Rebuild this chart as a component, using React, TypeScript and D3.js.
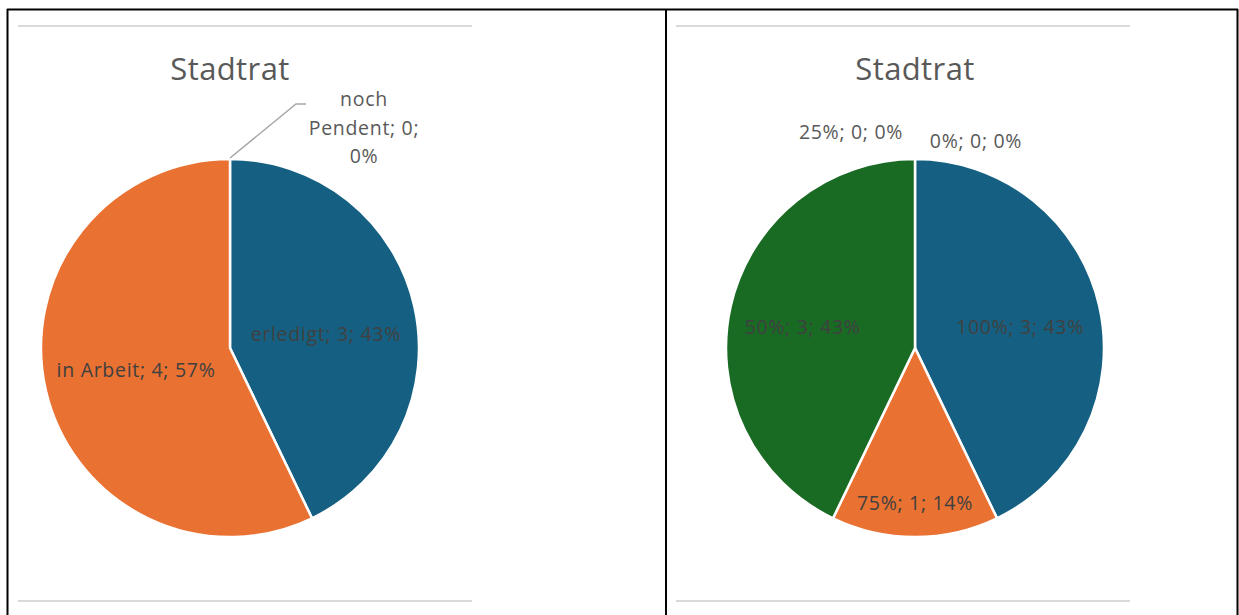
import React from "react";
import * as d3 from "d3";

const leftCategories = ["erledigt", "in Arbeit", "noch Pendent"];
const leftValues = [3, 4, 0];
const rightCategories = ["100%", "75%", "50%", "25%", "0%"];
const rightValues = [3, 1, 3, 0, 0];
const title = "Stadtrat";
const themeColors = ["#156082", "#E97132", "#196B24", "#0F9ED5", "#A02B93"];

const W = 1239;
const H = 615;
const FONT = "'Open Sans', 'Noto Sans', sans-serif";
const LFS = 19.5;
const LLS = 0.7;

type LabelSpec = { rf: number; dx: number; dy: number; inside: boolean };

function Pie({
  cx,
  cats,
  vals,
  labelSpecs,
  leader,
}: {
  cx: number;
  cats: string[];
  vals: number[];
  labelSpecs: LabelSpec[];
  leader?: boolean;
}) {
  const cy = 348;
  const r = 189;
  const total = d3.sum(vals);
  const pie = d3.pie<number>().sort(null).value((d) => d);
  const arcs = pie(vals);
  const arc = d3.arc<d3.PieArcDatum<number>>().innerRadius(0).outerRadius(r);
  const pct = d3.format(".0%");
  return (
    <g>
      <text
        x={cx}
        y={80}
        textAnchor="middle"
        fontFamily={FONT}
        fontSize={31}
        letterSpacing={0.4}
        fill="#595959"
      >
        {title}
      </text>
      <g transform={`translate(${cx},${cy})`}>
        {arcs.map((a, i) =>
          a.value > 0 ? (
            <path
              key={i}
              d={arc(a) || ""}
              fill={themeColors[i]}
              stroke="#fff"
              strokeWidth={2.5}
            />
          ) : null
        )}
        {arcs.map((a, i) => {
          const s = labelSpecs[i];
          const mid = (a.startAngle + a.endAngle) / 2;
          const lr = r * s.rf;
          const x = Math.sin(mid) * lr + s.dx;
          const y = -Math.cos(mid) * lr + s.dy;
          const label = `${cats[i]}; ${vals[i]}; ${pct(vals[i] / total)}`;
          if (leader && i === 2) {
            const lines = ["noch", "Pendent; 0;", "0%"];
            const px = Math.sin(mid) * r;
            const py = -Math.cos(mid) * r;
            return (
              <g key={i}>
                <polyline
                  points={`${px},${py - 1} ${px + 66},${py - 55} ${px + 76},${py - 55}`}
                  fill="none"
                  stroke="#a6a6a6"
                  strokeWidth={1.5}
                />
                {lines.map((ln, j) => (
                  <text
                    key={j}
                    x={x}
                    y={y + j * 28.5}
                    textAnchor="middle"
                    fontFamily={FONT}
                    fontSize={LFS}
                    letterSpacing={LLS}
                    fill="#595959"
                  >
                    {ln}
                  </text>
                ))}
              </g>
            );
          }
          return (
            <text
              key={i}
              x={x}
              y={y}
              textAnchor="middle"
              dominantBaseline="central"
              fontFamily={FONT}
              fontSize={LFS}
              letterSpacing={LLS}
              fill={s.inside ? "#404040" : "#595959"}
            >
              {label}
            </text>
          );
        })}
      </g>
    </g>
  );
}

const leftLabelSpecs: LabelSpec[] = [
  { rf: 0.52, dx: 0, dy: 7, inside: true },
  { rf: 0.51, dx: 0, dy: 0, inside: true },
  { rf: 1, dx: 134, dy: -53, inside: false },
];
const rightLabelSpecs: LabelSpec[] = [
  { rf: 0.57, dx: 0, dy: 2, inside: true },
  { rf: 0.82, dx: 0, dy: 0, inside: true },
  { rf: 0.61, dx: 0, dy: 4, inside: true },
  { rf: 1, dx: -64, dy: -28, inside: false },
  { rf: 1, dx: 61, dy: -19, inside: false },
];

export default function App() {
  return (
    <svg
      width={W}
      height={H}
      style={{ position: "absolute", left: 0, top: 0, background: "#fff" }}
    >
      <rect x={0} y={0} width={W} height={H} fill="#fff" />
      {/* panel borders */}
      <line x1={7} y1={9.5} x2={1238} y2={9.5} stroke="#000" strokeWidth={2} />
      <line x1={7.5} y1={9} x2={7.5} y2={H} stroke="#000" strokeWidth={2} />
      <line x1={666} y1={9} x2={666} y2={H} stroke="#000" strokeWidth={2} />
      <line x1={1237.5} y1={9} x2={1237.5} y2={H} stroke="#000" strokeWidth={2} />
      {/* gray chart-area lines */}
      <line x1={18} y1={26} x2={472} y2={26} stroke="#d9d9d9" strokeWidth={2} />
      <line x1={18} y1={601} x2={472} y2={601} stroke="#d9d9d9" strokeWidth={2} />
      <line x1={676} y1={26} x2={1130} y2={26} stroke="#d9d9d9" strokeWidth={2} />
      <line x1={676} y1={601} x2={1130} y2={601} stroke="#d9d9d9" strokeWidth={2} />
      <Pie
        cx={230}
        cats={leftCategories}
        vals={leftValues}
        labelSpecs={leftLabelSpecs}
        leader
      />
      <Pie
        cx={915}
        cats={rightCategories}
        vals={rightValues}
        labelSpecs={rightLabelSpecs}
      />
    </svg>
  );
}
